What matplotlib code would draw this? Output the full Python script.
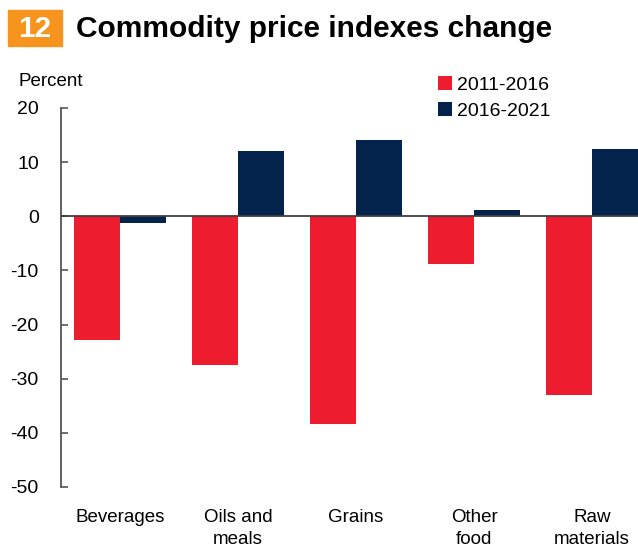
import matplotlib.pyplot as plt
import numpy as np
from matplotlib.patches import Rectangle

plt.rcParams['font.family'] = ['Liberation Sans', 'DejaVu Sans']
plt.rcParams['axes.unicode_minus'] = False

categories = ["Beverages", "Oils and\nmeals", "Grains", "Other\nfood", "Raw\nmaterials"]
chg_2011_2016 = [-22.8, -27.5, -38.3, -8.9, -33.1]
chg_2016_2021 = [-1.3, 12.1, 14.1, 1.1, 12.4]
series_labels = ["2011-2016", "2016-2021"]

red = '#ED1C2E'
navy = '#03224C'

fig = plt.figure(figsize=(6.38, 5.5), dpi=100)
ax = fig.add_axes([61 / 638, 63 / 550, 590 / 638, 379 / 550])

x = np.arange(len(categories))
w = 0.39
ax.bar(x - w / 2, chg_2011_2016, width=w, color=red, label=series_labels[0])
ax.bar(x + w / 2, chg_2016_2021, width=w, color=navy, label=series_labels[1])
ax.axhline(0, color='#404040', lw=1.3, zorder=3)

ax.set_xlim(-0.5, 4.5)
ax.set_ylim(-50, 20)
ax.set_yticks(np.arange(-50, 21, 10))
ax.set_xticks(x)
ax.set_xticklabels(categories, fontsize=13.5, linespacing=1.38)
ax.tick_params(axis='x', length=0, pad=16)
ax.tick_params(axis='y', direction='in', length=5, width=1.2, color='#555555',
               labelsize=14, pad=16)
for s in ['top', 'right', 'bottom']:
    ax.spines[s].set_visible(False)
ax.spines['left'].set_color('#555555')
ax.spines['left'].set_linewidth(1.3)

# title with numbered box
fig.patches.append(Rectangle((8 / 638, 1 - 46 / 550), 54 / 638, 36 / 550,
                             transform=fig.transFigure, color='#F7941D'))
fig.text(35 / 638, 1 - 29 / 550, "12", color='white', fontsize=21.5,
         fontweight='bold', ha='center', va='center')
fig.text(76 / 638, 1 - 29 / 550, "Commodity price indexes change", fontsize=21.5,
         fontweight='bold', ha='left', va='center')
fig.text(18 / 638, 1 - 81 / 550, "Percent", fontsize=13.5, ha='left', va='center')

ax.legend(loc='upper left', bbox_to_anchor=(438 / 638, 1 - 76 / 550),
          bbox_transform=fig.transFigure, frameon=False, fontsize=14,
          handlelength=0.7, handleheight=0.7, handletextpad=0.3,
          labelspacing=0.45, borderpad=0, borderaxespad=0)

fig.savefig('out.png', dpi=100)
